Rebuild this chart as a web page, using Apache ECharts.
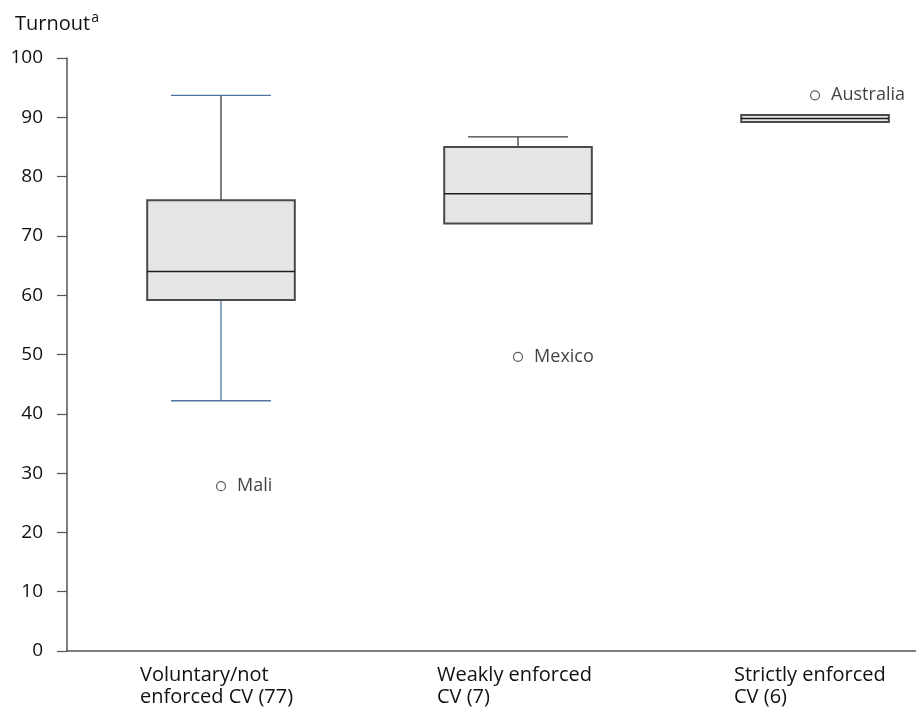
<!DOCTYPE html>
<html>
<head>
<meta charset="utf-8">
<script src="https://cdn.jsdelivr.net/npm/echarts@6/dist/echarts.min.js"></script>
<style>html,body{margin:0;padding:0;background:#fff}#c{width:916px;height:711px}</style>
</head>
<body>
<div id="c"></div>
<script>
// ---- data ----
const categories = ['Voluntary/not\nenforced CV (77)', 'Weakly enforced\nCV (7)', 'Strictly enforced\nCV (6)'];
const lowWhisker = [42.2, 72.1, 89.2];
const q1 = [59.2, 72.1, 89.2];
const median = [64.0, 77.1, 89.8];
const q3 = [76.0, 85.0, 90.4];
const highWhisker = [93.7, 86.7, 90.4];
const outlierCategory = [0, 1, 2];
const outlierValue = [27.8, 49.6, 93.7];
const outlierName = ['Mali', 'Mexico', 'Australia'];
const yTicks = [0, 10, 20, 30, 40, 50, 60, 70, 80, 90, 100];

// ---- styles ----
const FONT = '"Open Sans", "Noto Sans", sans-serif';
const dark = '#3a3a3a';
const blue = '#4f76a0';
const upperCapColor = [blue, dark, dark];

const catIndex = categories.map((c, i) => i);
const boxData = catIndex.map(i => [i, lowWhisker[i], q1[i], median[i], q3[i], highWhisker[i]]);
const outData = outlierCategory.map((c, i) => [c, outlierValue[i], outlierName[i]]);

const chart = echarts.init(document.getElementById('c'));
chart.setOption({
  animation: false,
  backgroundColor: '#fff',
  title: {
    left: 10, top: 6,
    text: '{b|Turnout}{s|a}',
    textStyle: {
      rich: {
        b: { fontFamily: FONT, fontSize: 20, fontWeight: 'normal', color: '#111' },
        s: { fontFamily: FONT, fontSize: 14, fontWeight: 'normal', color: '#111', padding: [0, 0, 12, 1] }
      }
    }
  },
  grid: { left: 67, top: 58, right: 0, bottom: 60 },
  xAxis: {
    type: 'value',
    min: -0.5185, max: 2.34,
    splitLine: { show: false },
    axisLine: { show: true, onZero: false, lineStyle: { color: '#555', width: 1.5 } },
    axisTick: { show: false },
    axisLabel: {
      customValues: catIndex,
      formatter: v => categories[Math.round(v)] || '',
      fontFamily: FONT, fontSize: 20, color: '#111',
      align: 'left', margin: 13, lineHeight: 22,
      padding: [0, 0, 0, -81]
    }
  },
  yAxis: {
    type: 'value', min: 0, max: 100, interval: 10,
    splitLine: { show: false },
    axisLine: { show: true, onZero: false, lineStyle: { color: '#555', width: 1.5 } },
    axisTick: { show: true, length: 10, lineStyle: { color: '#555', width: 1.2 } },
    axisLabel: { fontFamily: FONT, fontSize: 19, color: '#111', margin: 24,
      formatter: v => yTicks.includes(v) ? String(v) : '' }
  },
  series: [
    {
      type: 'custom',
      data: boxData,
      renderItem: function (params, api) {
        const i = api.value(0);
        const x = api.coord([i, 0])[0];
        const bw = api.size([1, 0])[0] * 0.497;
        const cw = 100;
        const yLow = api.coord([i, api.value(1)])[1];
        const yQ1 = api.coord([i, api.value(2)])[1];
        const yMed = api.coord([i, api.value(3)])[1];
        const yQ3 = api.coord([i, api.value(4)])[1];
        const yHigh = api.coord([i, api.value(5)])[1];
        const children = [];
        if (Math.abs(yHigh - yQ3) > 1) {
          children.push({ type: 'line', shape: { x1: x, y1: yHigh, x2: x, y2: yQ3 }, style: { stroke: dark, lineWidth: 1.3 } });
          children.push({ type: 'line', shape: { x1: x - cw / 2, y1: yHigh, x2: x + cw / 2, y2: yHigh }, style: { stroke: upperCapColor[i], lineWidth: 1.3 } });
        }
        if (Math.abs(yLow - yQ1) > 1) {
          children.push({ type: 'line', shape: { x1: x, y1: yQ1, x2: x, y2: yLow }, style: { stroke: blue, lineWidth: 1.3 } });
          children.push({ type: 'line', shape: { x1: x - cw / 2, y1: yLow, x2: x + cw / 2, y2: yLow }, style: { stroke: blue, lineWidth: 1.3 } });
        }
        children.push({ type: 'rect', shape: { x: x - bw / 2, y: yQ3, width: bw, height: yQ1 - yQ3 }, style: { fill: '#e5e6e8', stroke: '#4a4a4a', lineWidth: 2 } });
        children.push({ type: 'line', shape: { x1: x - bw / 2, y1: yMed, x2: x + bw / 2, y2: yMed }, style: { stroke: '#1e1e1e', lineWidth: 1.5 } });
        return { type: 'group', children: children };
      },
      z: 2
    },
    {
      type: 'scatter',
      data: outData,
      symbol: 'circle',
      symbolSize: 9,
      itemStyle: { color: '#fff', borderColor: '#333', borderWidth: 1.2 },
      label: {
        show: true, position: 'right', distance: 11,
        formatter: p => p.value[2],
        fontFamily: FONT, fontSize: 18, color: '#111'
      },
      z: 3
    }
  ]
});
</script>
</body>
</html>
